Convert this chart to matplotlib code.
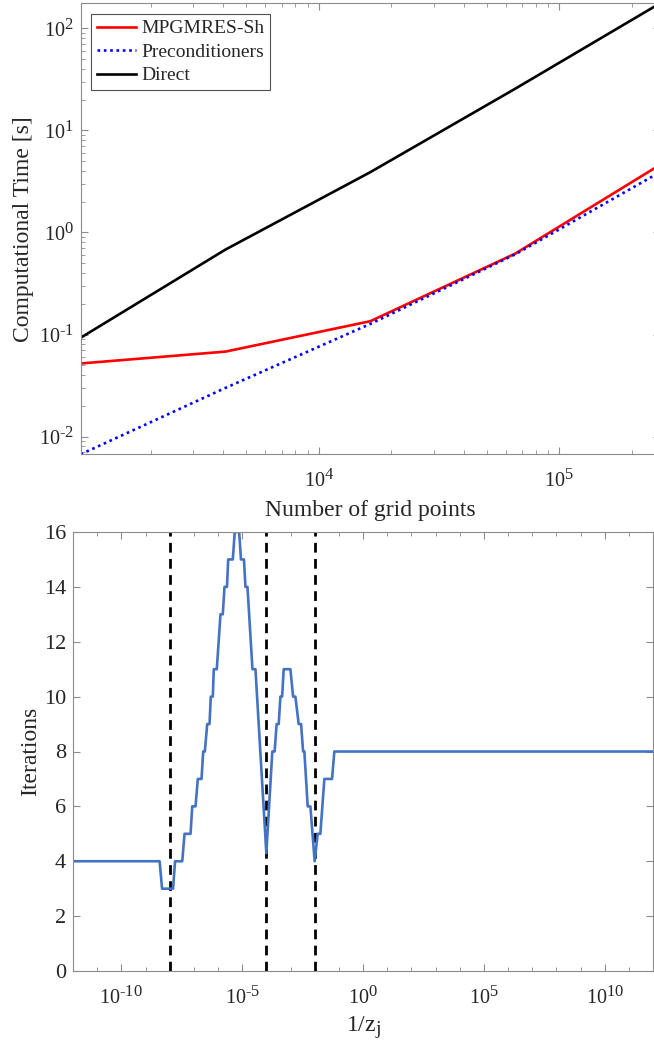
import numpy as np
import matplotlib
matplotlib.use("Agg")
import matplotlib.pyplot as plt
import matplotlib._mathtext as _mt
from matplotlib.ticker import FixedLocator, FuncFormatter, NullFormatter

plt.rcParams['font.family'] = ['Liberation Serif', 'DejaVu Serif']
plt.rcParams['mathtext.fontset'] = 'custom'
plt.rcParams['mathtext.rm'] = 'Liberation Serif'
plt.rcParams['mathtext.it'] = 'Liberation Serif:italic'
_mt.SHRINK_FACTOR = 0.82

# ---------------- Data: top panel ----------------
grid_points = [1024, 4096, 16384, 65536, 262144]
time_mpgmres = [0.052, 0.068, 0.135, 0.62, 4.6]
time_precond = [0.0067, 0.030, 0.127, 0.61, 3.9]
time_direct = [0.093, 0.68, 3.9, 25.6, 176]

# ---------------- Data: bottom panel ----------------
# log10(1/z_j) at polyline vertices, and iteration counts there
inv_z_exponent = [-12.0, -8.417, -8.314, -7.860, -7.777, -7.479, -7.384, -7.136, -7.066,
                  -6.930, -6.835, -6.682, -6.612, -6.545, -6.446, -6.351, -6.298, -6.215,
                  -6.174, -6.050, -5.897, -5.802, -5.731, -5.628, -5.579, -5.388, -5.306,
                  -5.124, -5.050, -4.926, -4.864, -4.781, -4.574, -4.450, -4.182, -4.0,
                  -3.752, -3.657, -3.574, -3.488, -3.417, -3.347, -3.281, -3.004, -2.893,
                  -2.798, -2.661, -2.562, -2.479, -2.426, -2.289, -2.178, -2.0, -1.876,
                  -1.764, -1.599, -1.281, -1.186, 12.0]
iterations = [4, 4, 3, 3, 4, 4, 5, 5, 6,
              6, 7, 7, 8, 8, 9, 9, 10, 10,
              11, 11, 13, 13, 14, 14, 15, 15, 16,
              16, 15, 15, 14, 14, 11, 11, 7, 4.3,
              8, 8, 9, 9, 10, 10, 11, 11, 10,
              10, 9, 9, 8, 8, 6, 6, 4, 5,
              5, 7, 7, 8, 8]
dashed_positions = [1e-8, 1e-4, 1e-2]

axis_gray = '#8c8c8c'
text_gray = '#262626'


def pow10_label(v, pos):
    e = int(round(np.log10(v)))
    if e < 0:
        return r'$\mathregular{10^{\text{-}%d}}$' % (-e)
    return r'$\mathregular{10^{%d}}$' % e


fig = plt.figure(figsize=(6.54, 10.5), dpi=100)


def style_axes(ax, size=14.5):
    for s in ax.spines.values():
        s.set_color(axis_gray)
        s.set_linewidth(0.8)
    ax.tick_params(which='both', direction='in', top=True, right=True,
                   color=axis_gray, labelcolor=text_gray, labelsize=size)
    ax.tick_params(which='major', length=5, width=0.8, pad=5)
    ax.tick_params(which='minor', length=2.8, width=0.6)


# ---------------- Top panel ----------------
ax1 = fig.add_axes([80.7/654, 1-454.3/1050, (660-80.7)/654, (454.3-3.3)/1050])
ax1.loglog(grid_points, time_mpgmres, color='red', lw=1.9, label='MPGMRES-Sh')
ax1.loglog(grid_points, time_precond, color='blue', lw=1.9, ls=(0, (1, 1.4)), label='Preconditioners')
ax1.loglog(grid_points, time_direct, color='black', lw=1.9, label='Direct')
ax1.set_xlim(grid_points[0], grid_points[-1])
ax1.set_ylim(min(time_precond), max(time_direct))
ax1.xaxis.set_major_locator(FixedLocator([1e3, 1e4, 1e5, 1e6]))
ax1.yaxis.set_major_locator(FixedLocator([1e-3, 1e-2, 1e-1, 1e0, 1e1, 1e2, 1e3]))
ax1.xaxis.set_major_formatter(FuncFormatter(pow10_label))
ax1.yaxis.set_major_formatter(FuncFormatter(pow10_label))
style_axes(ax1)
ax1.tick_params(axis='x', which='major', pad=11)
ax1.set_xlabel('Number of grid points', fontsize=17, color=text_gray, labelpad=6)
ax1.set_ylabel('Computational Time [s]', fontsize=17, color=text_gray, labelpad=3)
leg = ax1.legend(loc='upper left', fontsize=14, frameon=True, fancybox=False,
                 edgecolor='#262626', handlelength=2.0, handletextpad=0.25,
                 borderpad=0.3, labelspacing=0.3, borderaxespad=0.55)
leg.get_frame().set_linewidth(0.8)
for t in leg.get_texts():
    t.set_color(text_gray)

# ---------------- Bottom panel ----------------
ax2 = fig.add_axes([73/654, 1-971/1050, (653-73)/654, (971-532)/1050])
inv_z = 10.0 ** np.array(inv_z_exponent)
for xd in dashed_positions:
    ax2.plot([xd, xd], [0, 16], color='black', lw=2.0, ls=(0, (3.5, 2.3)))
ax2.plot(inv_z, iterations, color='#4472C4', lw=1.9)
ax2.set_xscale('log')
ax2.set_xlim(1e-12, 1e12)
ax2.set_ylim(0, 16)
ax2.set_yticks(np.arange(0, 17, 2))
ax2.xaxis.set_major_locator(FixedLocator([1e-10, 1e-5, 1e0, 1e5, 1e10]))
ax2.xaxis.set_major_formatter(FuncFormatter(pow10_label))
ax2.xaxis.set_minor_locator(FixedLocator(10.0 ** np.arange(-12, 13)))
ax2.xaxis.set_minor_formatter(NullFormatter())
style_axes(ax2)
ax2.tick_params(axis='y', labelsize=16)
ax2.tick_params(axis='x', which='major', pad=11)
ax2.set_xlabel(r'1/z$_\mathregular{j}$', fontsize=17, color=text_gray, labelpad=4)
ax2.set_ylabel('Iterations', fontsize=17, color=text_gray, labelpad=2)

fig.savefig('out.png', dpi=100)
